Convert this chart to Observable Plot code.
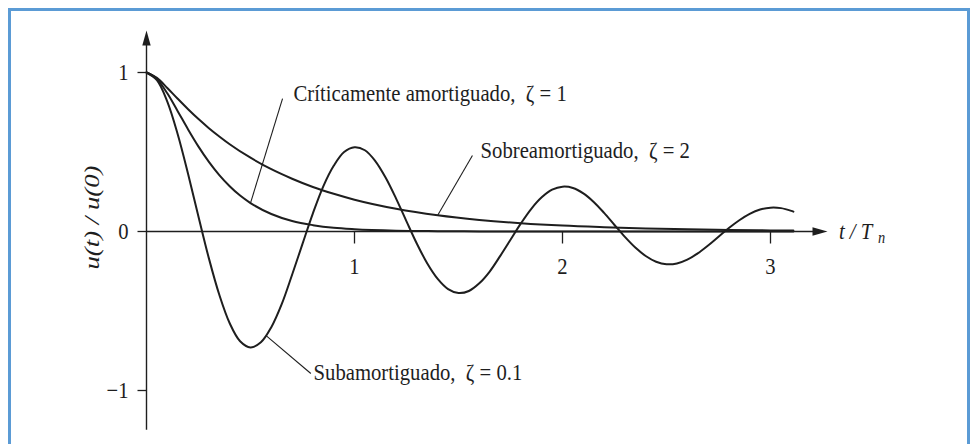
<!DOCTYPE html>
<html>
<head>
<meta charset="utf-8">
<script src="https://cdn.jsdelivr.net/npm/d3@7"></script>
<script src="https://cdn.jsdelivr.net/npm/@observablehq/plot@0.6"></script>
<style>
  body { margin: 0; background: #fff; }
  #frame { position: absolute; left: 8px; top: 8px; width: 956px; height: 460px;
           border: 3px solid #5b9bd5; border-bottom: none; }
  #chart { position: absolute; left: 0; top: 0; }
  #chart svg, #chart svg text {
    font-family: "Liberation Serif", "DejaVu Serif", serif !important;
  }
</style>
</head>
<body>
<div id="frame"></div>
<div id="chart"></div>
<script>
// Free-vibration response u(t)/u(0) against t/Tn for three damping ratios.
const underdamped = [ // ζ = 0.1
  [0,1],[0.05,0.952],[0.1,0.817],[0.15,0.612],[0.2,0.362],[0.25,0.093],[0.3,-0.169],
  [0.35,-0.398],[0.4,-0.577],[0.45,-0.690],[0.5,-0.729],[0.55,-0.697],[0.6,-0.602],
  [0.65,-0.457],[0.7,-0.272],[0.75,-0.078],[0.8,0.114],[0.85,0.284],[0.9,0.413],
  [0.95,0.500],[1,0.530],[1.05,0.511],[1.1,0.443],[1.15,0.338],[1.2,0.207],[1.25,0.064],
  [1.3,-0.077],[1.35,-0.201],[1.4,-0.298],[1.45,-0.362],[1.5,-0.387],[1.55,-0.374],
  [1.6,-0.326],[1.65,-0.252],[1.7,-0.155],[1.75,-0.052],[1.8,0.051],[1.85,0.143],
  [1.9,0.215],[1.95,0.263],[2,0.282],[2.05,0.274],[2.1,0.240],[2.15,0.186],[2.2,0.117],
  [2.25,0.041],[2.3,-0.034],[2.35,-0.101],[2.4,-0.154],[2.45,-0.190],[2.5,-0.206],
  [2.55,-0.201],[2.6,-0.177],[2.65,-0.138],[2.7,-0.088],[2.75,-0.033],[2.8,0.022],
  [2.85,0.071],[2.9,0.111],[2.95,0.138],[3,0.150],[3.05,0.147],[3.1,0.130],[3.11,0.125]
];
const critical = [ // ζ = 1
  [0,1],[0.05,0.960],[0.1,0.869],[0.15,0.757],[0.2,0.642],[0.25,0.534],[0.3,0.438],
  [0.35,0.355],[0.4,0.285],[0.45,0.226],[0.5,0.179],[0.6,0.110],[0.7,0.066],[0.8,0.040],
  [0.9,0.023],[1,0.014],[1.2,0.005],[1.4,0.002],[1.6,0.0005],[2,0],[2.5,0],[3.11,0]
];
const overdamped = [ // ζ = 2
  [0,1],[0.05,0.966],[0.1,0.903],[0.15,0.835],[0.2,0.769],[0.25,0.707],[0.3,0.650],
  [0.35,0.598],[0.4,0.549],[0.5,0.464],[0.6,0.392],[0.7,0.332],[0.8,0.280],[0.9,0.237],
  [1,0.200],[1.2,0.143],[1.4,0.102],[1.6,0.073],[1.8,0.052],[2,0.037],[2.2,0.027],
  [2.4,0.019],[2.6,0.014],[2.8,0.010],[3,0.007],[3.11,0.006]
];

const xTicks = [1, 2, 3];
const yTicks = [1, 0, -1];

// Curve labels: text, anchor point, and the leader running from label to curve.
const labelText = ["Críticamente amortiguado,\u2002ζ = 1", "Sobreamortiguado,\u2002ζ = 2", "Subamortiguado,\u2002ζ = 0.1"];
const labelAt   = [[0.707, 0.818], [1.606, 0.465], [0.803, -0.931]];
const leaderFrom = [[0.654, 0.836], [1.567, 0.478], [0.790, -0.893]];
const leaderTo   = [[0.500, 0.179], [1.400, 0.102], [0.575, -0.655]];
const yTitle = "u(t) / u(0)";

const labels = labelText.map((text, i) => ({text, x: labelAt[i][0], y: labelAt[i][1]}));
const leaders = leaderFrom.map((a, i) => ({x1: a[0], y1: a[1], x2: leaderTo[i][0], y2: leaderTo[i][1]}));

const ink = "#1e1e1e";

// Filled arrowheads (tip at the anchor point) and short tick strokes.
const headRight = {draw(c) { c.moveTo(0, 0); c.lineTo(-15, -4.2); c.lineTo(-15, 4.2); c.closePath(); }};
const headUp    = {draw(c) { c.moveTo(0, 0); c.lineTo(-4.2, 15); c.lineTo(4.2, 15); c.closePath(); }};
const tickDown  = {draw(c) { c.moveTo(0, 0); c.lineTo(0, 12); }};
const tickLeft  = {draw(c) { c.moveTo(0, 0); c.lineTo(-9, 0); }};

const px = d => d[0], py = d => d[1];

const chart = Plot.plot({
  width: 978,
  height: 444,
  marginLeft: 146,
  marginRight: 145.6,
  marginTop: 24.3,
  marginBottom: 14.25,
  x: {domain: [0, 3.3], axis: null},
  y: {domain: [-1.25, 1.3], axis: null},
  style: {fontSize: "23px", background: "none", overflow: "visible", color: ink},
  marks: [
    // axes
    Plot.ruleY([0], {x1: 0, x2: 3.22, stroke: ink, strokeWidth: 1.4}),
    Plot.ruleX([0], {y1: -1.25, y2: 1.2, stroke: ink, strokeWidth: 1.4}),
    Plot.dot([[3.274, 0]], {x: px, y: py, symbol: headRight, fill: ink, stroke: "none"}),
    Plot.dot([[0, 1.264]], {x: px, y: py, symbol: headUp, fill: ink, stroke: "none"}),
    Plot.dot(xTicks, {x: d => d, y: 0, symbol: tickDown, stroke: ink, strokeWidth: 1.3, fill: "none"}),
    Plot.dot(yTicks, {x: 0, y: d => d, symbol: tickLeft, stroke: ink, strokeWidth: 1.3, fill: "none"}),
    Plot.text(xTicks, {x: d => d, y: 0, text: d => String(d), dy: 35, fill: ink}),
    Plot.text(yTicks, {x: 0, y: d => d, text: d => (d < 0 ? "\u2212" + Math.abs(d) : String(d)),
                       textAnchor: "end", dx: -18, fill: ink}),
    // axis titles
    Plot.text([yTitle], {x: 0, y: 0.088, dx: -54, rotate: -90,
                         fontStyle: "italic", fontSize: 21, fill: ink}),
    Plot.text(["t / T"], {x: 3.3, y: 0, dx: 6, textAnchor: "start", fontStyle: "italic", fill: ink}),
    Plot.text(["n"], {x: 3.3, y: 0, dx: 45, dy: 6, textAnchor: "start", fontStyle: "italic", fontSize: 16, fill: ink}),
    // response curves
    Plot.line(overdamped, {x: px, y: py, curve: "monotone-x", stroke: ink, strokeWidth: 2}),
    Plot.line(critical, {x: px, y: py, curve: "monotone-x", stroke: ink, strokeWidth: 2}),
    Plot.line(underdamped, {x: px, y: py, curve: "catmull-rom", stroke: ink, strokeWidth: 2}),
    // annotations
    Plot.link(leaders, {x1: "x1", y1: "y1", x2: "x2", y2: "y2", stroke: ink, strokeWidth: 1.1}),
    Plot.text(labels, {x: "x", y: "y", text: "text", textAnchor: "start", lineAnchor: "bottom", fill: ink})
  ]
});

document.getElementById("chart").appendChild(chart);

// Book-style condensed lettering: narrow each text run, stretch the rotated title.
chart.querySelectorAll("text").forEach(t => {
  const w = t.getComputedTextLength();
  const target = t.textContent === yTitle ? 104 : w * 0.9;
  t.setAttribute("textLength", target.toFixed(1));
  t.setAttribute("lengthAdjust", "spacingAndGlyphs");
});
</script>
</body>
</html>
